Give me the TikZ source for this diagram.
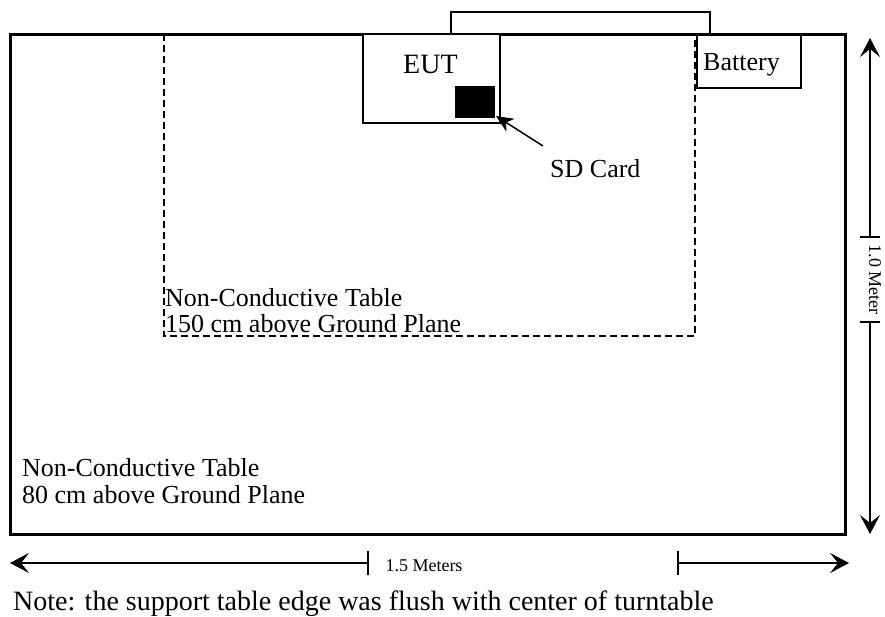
\documentclass[tikz,border=0pt]{standalone}
\usepackage{fontspec}
\setmainfont{Liberation Serif}
\usetikzlibrary{arrows.meta}
\begin{document}
\begin{tikzpicture}[x=1pt,y=-1pt,
  lbl/.style={inner sep=0pt, font=\fontsize{26}{28}\selectfont, anchor=base west},
  big/.style={inner sep=0pt, font=\fontsize{28}{30}\selectfont, anchor=base west},
  small/.style={inner sep=0pt, font=\fontsize{18}{20}\selectfont},
  dim/.style={line width=1.2pt, -{Stealth[length=19pt,width=20pt,inset=8pt]}},
  bar/.style={line width=1.2pt}]
\useasboundingbox (0,0) rectangle (885,616);
% top rectangle behind
\draw[line width=1.5pt] (451,34) |- (710,12) -- (710,34);
% dashed upper table
\draw[line width=1.5pt, dash pattern=on 7pt off 4pt] (164,34) rectangle (695,336);
% main table
\draw[line width=3pt] (10.5,34) rectangle (845,534);
% EUT
\draw[line width=1.5pt, fill=white] (363,34) rectangle (500,123);
\node[big] (eut) at (403,73) {EUT};
\fill (455,86) rectangle (495,118);
\coordinate (sd) at (496,116);
% Battery
\draw[line width=1.5pt, fill=white] (697,35) rectangle (801,88);
\node[lbl] (bat) at (703,70) {Battery};
% SD card label and arrow
\node[lbl] (sdl) at (550,177) {SD Card};
\coordinate (sdt) at (543,146);
\draw[line width=1.5pt, -{Stealth[length=17pt,width=15pt,inset=5pt]}] (sdt) -- (sd);
% texts
\node[lbl] (t150a) at (165,306) {Non-Conductive Table};
\node[lbl] (t150b) at (165,332) {150 cm above Ground Plane};
\node[lbl] (t80a) at (22,476) {Non-Conductive Table};
\node[lbl] (t80b) at (22,503) {80 cm above Ground Plane};
% vertical dimension
\coordinate (vt) at (870,38);
\coordinate (vb) at (870,534);
\coordinate (vb1) at (870,237);
\coordinate (vb2) at (870,322);
\draw[dim] (vb1) -- (vt);
\draw[dim] (vb2) -- (vb);
\draw[bar] (860,237) -- (880,237);
\draw[bar] (860,322) -- (880,322);
\node[small, rotate=-90, anchor=base] (vm) at (869,279.5) {1.0 Meter};
% horizontal dimension
\coordinate (hl) at (10,563);
\coordinate (hr) at (849,563);
\coordinate (hb1) at (368,563);
\coordinate (hb2) at (678,563);
\draw[dim] (hb1) -- (hl);
\draw[dim] (hb2) -- (hr);
\draw[bar] (368,551) -- (368,575);
\draw[bar] (678,551) -- (678,575);
\node[small] (hm) at (424,566) {1.5 Meters};
% note
\node[big] (note) at (13,610) {Note: the support table edge was flush with center of turntable};
\end{tikzpicture}
\end{document}
